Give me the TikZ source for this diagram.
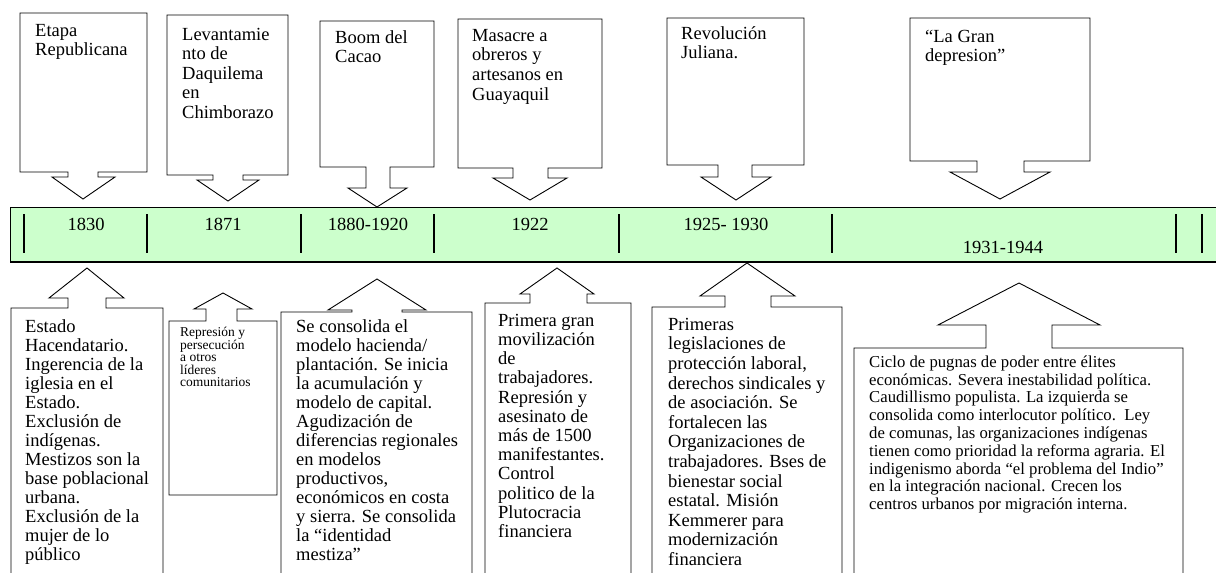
\documentclass[tikz,border=0pt]{standalone}
\usepackage{fontspec}
\setmainfont{Liberation Serif}
\definecolor{bandgreen}{HTML}{CCFFCC}
\begin{document}
\begin{tikzpicture}[x=1pt,y=-1pt,line join=miter,
  callout/.style={draw=black,line width=0.9pt,fill=white},
  divider/.style={draw=black,line width=1.1pt},
  txt/.style={anchor=north west,inner sep=0pt,align=left,text=black},
  year/.style={anchor=base,inner sep=0pt,font=\fontsize{18.5}{19}\selectfont}]
\useasboundingbox (0,0) rectangle (1216,573);
\clip (0,0) rectangle (1216,573);
\fill[white] (0,0) rectangle (1216,573);
% band
\path[fill=bandgreen,draw=black,line width=1.1pt] (10.7,207.7) rectangle (1240,262);
\foreach \xx in {24,147,301,434,619,832,1176,1202}
  \draw[divider] (\xx,214) -- (\xx,253);
% years
\node[year] (y1) at (86,230) {1830};
\node[year] (y2) at (223,230) {1871};
\node[year] (y3) at (368,230) {1880-1920};
\node[year] (y4) at (530,230) {1922};
\node[year] (y5) at (726,230) {1925- 1930};
\node[year] (y6) at (1003,253) {1931-1944};
% top callouts
\draw[callout] (20,13) -- (147,13) -- (147,172) -- (98,172) -- (98,177) -- (115,177) -- (83,199) -- (52,177) -- (68,177) -- (68,172) -- (20,172) -- cycle;
\draw[callout] (167,15) -- (288,15) -- (288,175) -- (243,175) -- (243,180) -- (259,180) -- (228,201) -- (197,180) -- (213,180) -- (213,175) -- (167,175) -- cycle;
\draw[callout] (320,21) -- (434,21) -- (434,167) -- (390,167) -- (390,188) -- (407,188) -- (377,207) -- (348,188) -- (366,188) -- (366,167) -- (320,167) -- cycle;
\draw[callout] (458,19) -- (602,19) -- (602,168) -- (548,168) -- (548,178) -- (567,178) -- (530,200) -- (493,178) -- (513,178) -- (513,168) -- (458,168) -- cycle;
\draw[callout] (667,18) -- (804,18) -- (804,165) -- (752,165) -- (752,177) -- (771,177) -- (736,200) -- (701,177) -- (718,177) -- (718,165) -- (667,165) -- cycle;
\draw[callout] (910,18) -- (1090,18) -- (1090,161) -- (1024,161) -- (1024,172) -- (1050,172) -- (1000,199) -- (950,172) -- (977,172) -- (977,161) -- (910,161) -- cycle;
% bottom callouts
\draw[callout] (11,590) -- (11,308) -- (68,308) -- (68,298) -- (49,298) -- (87,268) -- (124,298) -- (106,298) -- (106,308) -- (163,308) -- (163,590) -- cycle;
\draw[callout] (169,495) -- (169,321) -- (206,321) -- (206,309) -- (194,309) -- (223,293) -- (252,309) -- (237,309) -- (237,321) -- (277,321) -- (277,495) -- cycle;
\draw[callout] (281,590) -- (281,312) -- (352,312) -- (352,310) -- (328,310) -- (377,279) -- (426,310) -- (402,310) -- (402,312) -- (472,312) -- (472,590) -- cycle;
\draw[callout] (485,590) -- (485,303) -- (530,303) -- (530,294) -- (520,294) -- (557,268) -- (594,294) -- (587,294) -- (587,303) -- (631,303) -- (631,590) -- cycle;
\draw[callout] (652,590) -- (652,307) -- (725,307) -- (725,296) -- (700,296) -- (747,263) -- (795,296) -- (771,296) -- (771,307) -- (842,307) -- (842,590) -- cycle;
\draw[callout] (854,590) -- (854,348) -- (986,348) -- (986,325) -- (938,325) -- (1019,283) -- (1100,325) -- (1052,325) -- (1052,348) -- (1183,348) -- (1183,590) -- cycle;
% top texts
\node[txt,font=\fontsize{18.5}{19.5}\selectfont] (t1) at (35,22) {\rule{0pt}{14pt}Etapa\\Republicana};
\node[txt,font=\fontsize{18.5}{19.5}\selectfont] (t2) at (182,26) {\rule{0pt}{14pt}Levantamie\\nto de\\Daquilema\\en\\Chimborazo};
\node[txt,font=\fontsize{18.5}{19.5}\selectfont] (t3) at (335,29) {\rule{0pt}{14pt}Boom del\\Cacao};
\node[txt,font=\fontsize{18.5}{19.7}\selectfont] (t4) at (472,27) {\rule{0pt}{14pt}Masacre a\\obreros y\\artesanos en\\Guayaquil};
\node[txt,font=\fontsize{18.5}{19.3}\selectfont] (t5) at (681,25) {\rule{0pt}{14pt}Revolución\\Juliana.};
\node[txt,font=\fontsize{18.5}{19.3}\selectfont] (t6) at (925,28) {\rule{0pt}{14pt}“La Gran\\depresion”};
% bottom texts
\node[txt,font=\fontsize{18.5}{19}\selectfont] (b1) at (25,318) {\rule{0pt}{14pt}Estado\\Hacendatario.\\Ingerencia de la\\iglesia en el\\Estado.\\Exclusión de\\indígenas.\\Mestizos son la\\base poblacional\\urbana.\\Exclusión de la\\mujer de lo\\público};
\node[txt,font=\fontsize{13.5}{12.3}\selectfont] (b2) at (180,326) {\rule{0pt}{10pt}Represión y\\persecución\\a otros\\líderes\\comunitarios};
\node[txt,font=\fontsize{18.5}{19}\selectfont] (b3) at (296,318) {\rule{0pt}{14pt}Se consolida el\\modelo hacienda/\\plantación. Se inicia\\la acumulación y\\modelo de capital.\\Agudización de\\diferencias regionales\\en modelos\\productivos,\\económicos en costa\\y sierra. Se consolida\\la “identidad\\mestiza”};
\node[txt,font=\fontsize{18.5}{19.2}\selectfont] (b4) at (498,312) {\rule{0pt}{14pt}Primera gran\\movilización\\\mbox{de}\\trabajadores.\\Represión y\\asesinato de\\más de 1500\\manifestantes.\\Control\\politico de la\\Plutocracia\\financiera};
\node[txt,font=\fontsize{18.5}{19.6}\selectfont] (b5) at (668,316) {\rule{0pt}{14pt}Primeras\\legislaciones de\\protección laboral,\\derechos sindicales y\\de asociación. Se\\fortalecen las\\Organizaciones de\\trabajadores. Bses de\\bienestar social\\estatal. Misión\\Kemmerer para\\modernización\\financiera};
\node[txt,font=\fontsize{16.7}{17.8}\selectfont] (b6) at (869,354) {\rule{0pt}{13pt}Ciclo de pugnas de poder entre élites\\económicas. Severa inestabilidad política.\\Caudillismo populista. La izquierda se\\consolida como interlocutor político.\ \ Ley\\de comunas, las organizaciones indígenas\\tienen como prioridad la reforma agraria. El\\indigenismo aborda “el problema del Indio”\\en la integración nacional. Crecen los\\centros urbanos por migración interna.};
\end{tikzpicture}
\end{document}
